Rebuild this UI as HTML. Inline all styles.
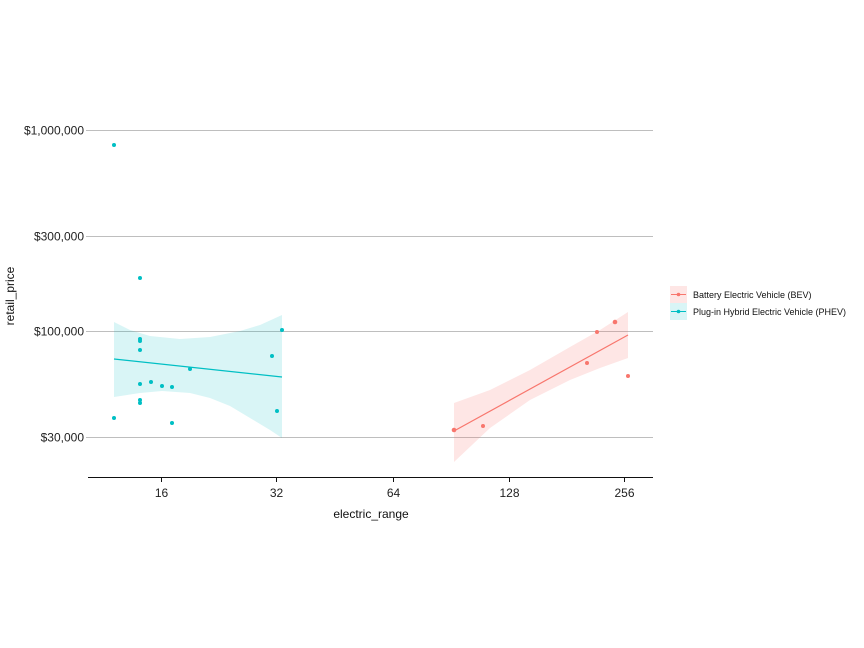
<!DOCTYPE html>
<html><head><meta charset="utf-8"><style>body{margin:0;background:#fff}svg{display:block}</style></head><body>
<svg width="864" height="648" viewBox="0 0 864 648" xmlns="http://www.w3.org/2000/svg" font-family="Liberation Sans, sans-serif">
<rect width="864" height="648" fill="#fff"/>
<g stroke="#bebebe" stroke-width="1">
<line x1="86" y1="130.5" x2="653" y2="130.5"/>
<line x1="86" y1="236.5" x2="653" y2="236.5"/>
<line x1="86" y1="331.5" x2="653" y2="331.5"/>
<line x1="86" y1="437.5" x2="653" y2="437.5"/>
</g>
<g font-size="12" fill="#222" text-anchor="end">
<text x="84" y="134.5">$1,000,000</text>
<text x="84" y="240.5">$300,000</text>
<text x="84" y="335.5">$100,000</text>
<text x="84" y="441.5">$30,000</text>
</g>
<text transform="translate(14,296) rotate(-90)" font-size="12" text-anchor="middle" fill="#111">retail_price</text>
<path d="M114,322 L130,330 L150,336 L180,339 L210,337 L240,331 L260,325 L282,315 L282,438 L270,430 L250,418 L230,406 L210,398 L190,393 L162,391 L140,393 L114,397 Z" fill="#00bfc4" fill-opacity="0.15"/>
<line x1="114" y1="359" x2="282" y2="377" stroke="#00bfc4" stroke-width="1.2"/>
<g fill="#00bfc4">
<circle cx="114" cy="145" r="2"/><circle cx="140" cy="278" r="2"/><circle cx="140" cy="339" r="2"/><circle cx="140" cy="341" r="2"/><circle cx="140" cy="350" r="2"/><circle cx="272" cy="356" r="2"/><circle cx="282" cy="330" r="2"/><circle cx="190" cy="369" r="2"/><circle cx="140" cy="384" r="2"/><circle cx="151" cy="382" r="2"/><circle cx="162" cy="386" r="2"/><circle cx="172" cy="387" r="2"/><circle cx="140" cy="400" r="2"/><circle cx="140" cy="403" r="2"/><circle cx="114" cy="418" r="2"/><circle cx="172" cy="423" r="2"/><circle cx="277" cy="411" r="2"/>
</g>
<path d="M454,403 L490,390 L530,370 L570,347 L600,330 L628,312 L628,358 L600,368 L570,380 L530,400 L490,428 L454,462 Z" fill="#f8766d" fill-opacity="0.18"/>
<line x1="454" y1="431" x2="628" y2="335" stroke="#f8766d" stroke-width="1.2"/>
<g fill="#f8766d">
<circle cx="454" cy="430" r="2.3"/><circle cx="483" cy="426" r="2"/><circle cx="587" cy="363" r="2"/><circle cx="597" cy="332" r="2"/><circle cx="615" cy="322" r="2.3"/><circle cx="628" cy="376" r="2"/>
</g>
<line x1="88" y1="477.5" x2="653" y2="477.5" stroke="#111" stroke-width="1"/>
<g stroke="#111"><line x1="161.5" y1="477" x2="161.5" y2="482"/><line x1="276.5" y1="477" x2="276.5" y2="482"/><line x1="393.5" y1="477" x2="393.5" y2="482"/><line x1="509.5" y1="477" x2="509.5" y2="482"/><line x1="624.5" y1="477" x2="624.5" y2="482"/></g>
<g font-size="12" fill="#222" text-anchor="middle">
<text x="161.5" y="497">16</text><text x="276.5" y="497">32</text><text x="393.5" y="497">64</text><text x="509.5" y="497">128</text><text x="624.5" y="497">256</text>
</g>
<text x="371" y="518" font-size="12" text-anchor="middle" fill="#111">electric_range</text>
<rect x="670" y="286" width="17" height="17" fill="#f8766d" fill-opacity="0.18"/>
<line x1="671" y1="294.5" x2="686" y2="294.5" stroke="#f8766d"/><circle cx="678.5" cy="294.5" r="1.8" fill="#f8766d"/>
<rect x="670" y="303" width="17" height="17" fill="#00bfc4" fill-opacity="0.15"/>
<line x1="671" y1="311.5" x2="686" y2="311.5" stroke="#00bfc4"/><circle cx="678.5" cy="311.5" r="1.8" fill="#00bfc4"/>
<g font-size="9" fill="#111">
<text x="693" y="298">Battery Electric Vehicle (BEV)</text>
<text x="693" y="315">Plug-in Hybrid Electric Vehicle (PHEV)</text>
</g>
</svg>
</body></html>
